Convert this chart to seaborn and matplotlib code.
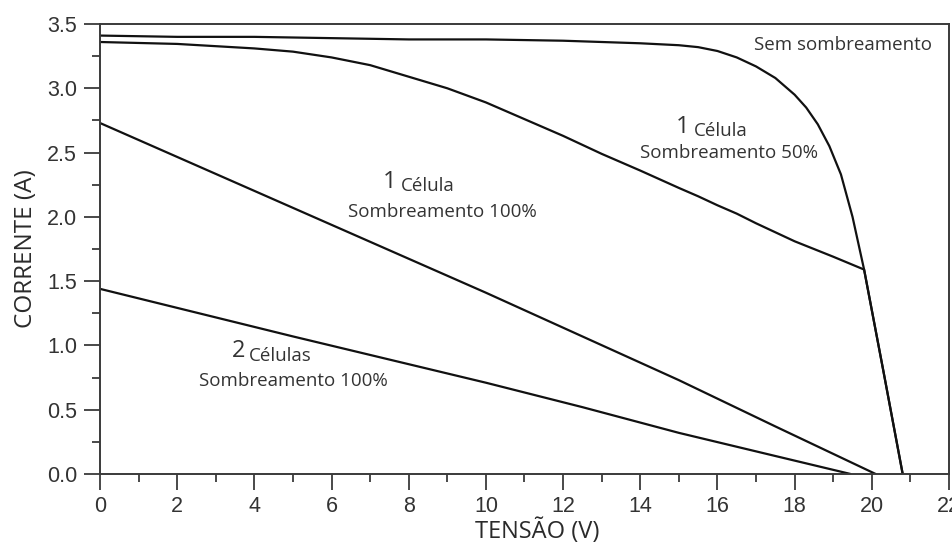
import numpy as np
import pandas as pd
import matplotlib
matplotlib.use("Agg")
import matplotlib.pyplot as plt
import seaborn as sns

# ---- data ----
v_sem = [0, 2, 4, 6, 8, 10, 12, 14, 15, 15.5, 16, 16.5, 17, 17.5, 18, 18.3, 18.6, 18.9, 19.2, 19.5, 19.8, 20.3, 20.8]
i_sem = [3.41, 3.40, 3.40, 3.39, 3.38, 3.38, 3.37, 3.35, 3.335, 3.32, 3.29, 3.24, 3.17, 3.08, 2.95, 2.85, 2.72, 2.55, 2.33, 2.00, 1.59, 0.80, 0.0]

v_50 = [0, 2, 4, 5, 6, 7, 8, 9, 10, 11, 12, 13, 14, 15, 15.5, 16, 16.5, 17, 18, 19, 19.8, 20.3, 20.8]
i_50 = [3.36, 3.345, 3.31, 3.285, 3.24, 3.18, 3.09, 3.00, 2.89, 2.76, 2.63, 2.49, 2.36, 2.225, 2.16, 2.09, 2.025, 1.95, 1.81, 1.69, 1.59, 0.80, 0.0]

v_1c = [0, 2.5, 5, 7.5, 10, 12.5, 15, 17.5, 20.1]
i_1c = [2.73, 2.40, 2.07, 1.74, 1.41, 1.07, 0.73, 0.37, 0.0]

v_2c = [0, 2.5, 5, 7.5, 10, 12.5, 15, 17.5, 19.45]
i_2c = [1.44, 1.255, 1.07, 0.89, 0.71, 0.52, 0.32, 0.14, 0.0]

series_names = ["Sem sombreamento", "1 Célula 50%", "1 Célula 100%", "2 Células 100%"]

x_ticks = [0, 2, 4, 6, 8, 10, 12, 14, 16, 18, 20, 22]
y_ticks = [0.0, 0.5, 1.0, 1.5, 2.0, 2.5, 3.0, 3.5]
y_tick_labels = ["0.0", "0.5", "1.0", "1.5", "2.0", "2.5", "3.0", "3.5"]

frames = []
for name, v, i in zip(series_names, [v_sem, v_50, v_1c, v_2c], [i_sem, i_50, i_1c, i_2c]):
    frames.append(pd.DataFrame({"V": v, "I": i, "serie": name}))
df = pd.concat(frames, ignore_index=True)

sns.set_style("ticks")
plt.rcParams["font.family"] = ["Liberation Sans", "DejaVu Sans"]

fig = plt.figure(figsize=(9.53, 5.46), dpi=100)
ax = fig.add_axes([100/953, 72/546, 849/953, 450/546])

sns.lineplot(data=df, x="V", y="I", units="serie", estimator=None, sort=False,
             color="#111111", linewidth=1.6, ax=ax, legend=False)

ax.set_xlim(0, 22)
ax.set_ylim(0, 3.5)
ax.set_xticks(x_ticks)
ax.set_xticks(np.arange(1, 22, 2), minor=True)
ax.set_yticks(y_ticks)
ax.set_yticklabels(y_tick_labels)
ax.set_yticks(np.arange(0.25, 3.5, 0.5), minor=True)

tick_col = "#333333"
ax.tick_params(axis="both", which="major", direction="out", length=11.5, width=1.3,
               color="#3a3a3a", labelsize=15.5, labelcolor=tick_col)
ax.tick_params(axis="both", which="minor", direction="out", length=6, width=1.3, color="#3a3a3a")
ax.tick_params(axis="x", which="major", pad=4)
ax.tick_params(axis="y", which="major", pad=5)
for s in ax.spines.values():
    s.set_linewidth(1.4)
    s.set_color("#3a3a3a")

lab_font = ["Open Sans", "DejaVu Sans"]
ax.set_xlabel("TENSÃO (V)", fontsize=17, family=lab_font, color="#2a2a2a")
ax.xaxis.set_label_coords(0.515, -0.128, transform=ax.transAxes)
ax.xaxis.label.set_verticalalignment("center")
ax.set_ylabel("CORRENTE (A)", fontsize=17.5, family=lab_font, color="#2a2a2a", labelpad=6)

tc = "#333333"
ts = 13.5
ds = 17
ax.text(19.25, 3.34, "Sem sombreamento", ha="center", va="center", fontsize=ts, family=lab_font, color=tc)

ax.text(15.1, 2.70, "1", ha="center", va="center", fontsize=ds, family=lab_font, color=tc)
ax.text(15.4, 2.67, "Célula", ha="left", va="center", fontsize=ts, family=lab_font, color=tc)
ax.text(16.3, 2.50, "Sombreamento 50%", ha="center", va="center", fontsize=ts, family=lab_font, color=tc)

ax.text(7.51, 2.27, "1", ha="center", va="center", fontsize=ds, family=lab_font, color=tc)
ax.text(7.8, 2.24, "Célula", ha="left", va="center", fontsize=ts, family=lab_font, color=tc)
ax.text(8.86, 2.04, "Sombreamento 100%", ha="center", va="center", fontsize=ts, family=lab_font, color=tc)

ax.text(3.6, 0.96, "2", ha="center", va="center", fontsize=ds, family=lab_font, color=tc)
ax.text(3.85, 0.92, "Células", ha="left", va="center", fontsize=ts, family=lab_font, color=tc)
ax.text(5.0, 0.72, "Sombreamento 100%", ha="center", va="center", fontsize=ts, family=lab_font, color=tc)

fig.savefig("out.png", dpi=100)
